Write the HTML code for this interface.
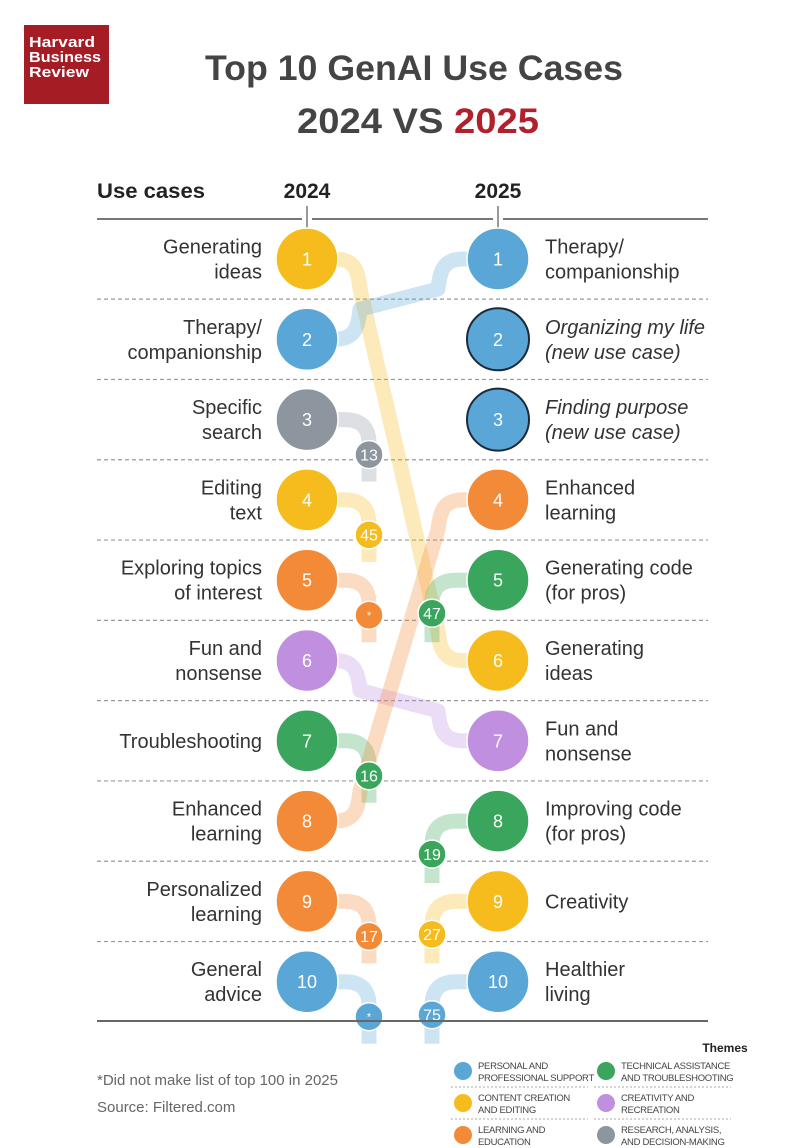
<!DOCTYPE html>
<html><head><meta charset="utf-8"><style>
html,body{margin:0;padding:0;background:#fff;}
svg{display:block;font-family:"Liberation Sans",sans-serif;}
</style></head><body>
<svg id="chart" width="800" height="1148" viewBox="0 0 800 1148" xmlns="http://www.w3.org/2000/svg">
<defs>
<linearGradient id="fadeDown" x1="0" y1="0" x2="0" y2="1"><stop offset="0" stop-color="#fff" stop-opacity="0"/><stop offset="1" stop-color="#fff" stop-opacity="1"/></linearGradient>
</defs>
<rect width="800" height="1148" fill="#fff"/>
<g>
<rect x="24" y="25" width="85" height="79" fill="#a51c24"/>
<text x="29" y="47" fill="#fff" font-weight="bold" font-size="15" textLength="66" lengthAdjust="spacingAndGlyphs">Harvard</text>
<text x="29" y="62" fill="#fff" font-weight="bold" font-size="15" textLength="72" lengthAdjust="spacingAndGlyphs">Business</text>
<text x="29" y="77" fill="#fff" font-weight="bold" font-size="15" textLength="60" lengthAdjust="spacingAndGlyphs">Review</text>
</g>
<text x="414" y="80" text-anchor="middle" font-size="35" font-weight="bold" fill="#444" textLength="418" lengthAdjust="spacingAndGlyphs">Top 10 GenAI Use Cases</text>
<text x="418" y="133" text-anchor="middle" font-size="35" font-weight="bold" fill="#444" textLength="242" lengthAdjust="spacingAndGlyphs">2024 VS <tspan fill="#b0212b">2025</tspan></text>
<text x="97" y="198" font-size="21" font-weight="bold" fill="#222" textLength="108" lengthAdjust="spacingAndGlyphs">Use cases</text>
<text x="307" y="198" text-anchor="middle" font-size="21" font-weight="bold" fill="#222">2024</text>
<text x="498" y="198" text-anchor="middle" font-size="21" font-weight="bold" fill="#222">2025</text>
<g stroke="#777" stroke-width="2">
<line x1="97" y1="219" x2="302" y2="219"/><line x1="312" y1="219" x2="493" y2="219"/><line x1="503" y1="219" x2="708" y2="219"/>
<line x1="307" y1="206" x2="307" y2="228" stroke-width="1.5"/><line x1="498" y1="206" x2="498" y2="228" stroke-width="1.5"/>
</g>
<g id="grid"></g>
<g id="ribbons"></g>
<g id="marks"></g>
<line x1="97" y1="1021" x2="708" y2="1021" stroke="#666" stroke-width="2"/>
<text x="97" y="1085" font-size="15" fill="#666">*Did not make list of top 100 in 2025</text>
<text x="97" y="1112" font-size="15" fill="#666">Source: Filtered.com</text>
<text x="725" y="1052" text-anchor="middle" font-size="12" font-weight="bold" fill="#222">Themes</text>
<g id="legend"></g>
</svg>
<script>
const themes = ['personal','content','learning','technical','creativity','research'];
const themeColors = {personal:'#5aa6d6',content:'#f6bb1c',learning:'#f28a37',technical:'#3aa55c',creativity:'#c18fe0',research:'#8d969e'};
const themeLabels = [['PERSONAL AND','PROFESSIONAL SUPPORT'],['CONTENT CREATION','AND EDITING'],['LEARNING AND','EDUCATION'],['TECHNICAL ASSISTANCE','AND TROUBLESHOOTING'],['CREATIVITY AND','RECREATION'],['RESEARCH, ANALYSIS,','AND DECISION-MAKING']];
const labels2024 = [['Generating','ideas'],['Therapy/','companionship'],['Specific','search'],['Editing','text'],['Exploring topics','of interest'],['Fun and','nonsense'],['Troubleshooting'],['Enhanced','learning'],['Personalized','learning'],['General','advice']];
const themes2024 = ['content','personal','research','content','learning','creativity','technical','learning','learning','personal'];
const rank2025of2024 = ['6','1','13','45','*','7','16','4','17','*'];
const labels2025 = [['Therapy/','companionship'],['Organizing my life','(new use case)'],['Finding purpose','(new use case)'],['Enhanced','learning'],['Generating code','(for pros)'],['Generating','ideas'],['Fun and','nonsense'],['Improving code','(for pros)'],['Creativity'],['Healthier','living']];
const themes2025 = ['personal','personal','personal','learning','technical','content','creativity','technical','content','personal'];
const rank2024of2025 = ['2','new','new','8','47','1','6','19','27','75'];

const X24=307, X25=498, XS24=369, XS25=432, R=31, RS=14;
const rowY = r => 259 + (r-1)*80.3;
const NS='http://www.w3.org/2000/svg';
function el(tag, attrs, parent){const e=document.createElementNS(NS,tag);for(const k in attrs)e.setAttribute(k,attrs[k]);parent.appendChild(e);return e;}
const grid=document.getElementById('grid'), rib=document.getElementById('ribbons'), marks=document.getElementById('marks'), leg=document.getElementById('legend');

for(let i=1;i<10;i++){
  const y=(rowY(i)+rowY(i+1))/2;
  const l=el('line',{x1:97,x2:708,y1:y,y2:y,stroke:'#999','stroke-width':1.2,'stroke-dasharray':'4 3'},grid);
  
  
}
function ribbon(d,color,op){
  const p=el('path',{d:d,fill:'none',stroke:color,'stroke-width':15,'stroke-opacity':op,'stroke-linecap':'butt','stroke-linejoin':'round'},rib);
  
  
}
function circle(x,y,r,color,txt,fs,outline){
  const g=el('g',{},marks);
  
  
  el('circle',{cx:x,cy:y,r:r,fill:color,stroke:outline?'#1c2a3a':'#fff','stroke-width':outline?2:1.5},g);
  const t=el('text',{x:x,y:y+fs*0.36,'text-anchor':'middle','font-size':fs,fill:'#fff'},g);
  t.textContent=txt;
}
function label(lines,x,y,anchor,italic){
  const t=el('text',{x:x,'text-anchor':anchor,'font-size':20,fill:'#333','font-style':italic?'italic':'normal'},marks);
  
  
  const n=lines.length;
  lines.forEach((s,k)=>{const ts=el('tspan',{x:x,y:y+7+(k-(n-1)/2)*25},t);ts.textContent=s;});
}
// 2024 column
labels2024.forEach((lab,i)=>{
  const r=i+1,y=rowY(r),c=themeColors[themes2024[i]],t=rank2025of2024[i];
  const n=parseInt(t);
  if(!isNaN(n)&&n<=10){
    const y2=rowY(n),s=Math.sign(y2-y);
    ribbon(`M${X24} ${y} H335 C355 ${y} 358 ${y+s*12} 360 ${y+s*30} L438 ${y2-s*30} C440 ${y2-s*12} 443 ${y2} 463 ${y2} H${X25}`,c,0.3);
  } else {
    ribbon(`M${X24} ${y} H345 Q${XS24} ${y} ${XS24} ${y+24} V${y+62}`,c,0.3);
    circle(XS24,y+35,RS,c,t,t==='*'?11:16,false);
  }
  circle(X24,y,R,c,String(r),18,false);
  label(lab,262,y,'end',false);
});
// 2025 column
labels2025.forEach((lab,i)=>{
  const r=i+1,y=rowY(r),c=themeColors[themes2025[i]],t=rank2024of2025[i];
  const n=parseInt(t);
  if(t==='new'){
    circle(X25,y,R,c,String(r),18,true);
  } else {
    if(n>10){
      ribbon(`M${XS25} ${y+62} V${y+24} Q${XS25} ${y} 456 ${y} H${X25}`,c,0.3);
      circle(XS25,y+33,RS,c,t,16,false);
    }
    circle(X25,y,R,c,String(r),18,false);
  }
  label(lab,545,y,'start',t==='new');
});
// legend
themes.forEach((th,i)=>{
  const col=Math.floor(i/3),row=i%3;
  const x=463+col*143,y=1071+row*32;
  const g=el('g',{},leg);
  
  
  el('circle',{cx:x,cy:y,r:9,fill:themeColors[th]},g);
  themeLabels[i].forEach((s,k)=>{const t=el('text',{x:x+15,y:y-2+k*12,'font-size':9.5,fill:'#444','letter-spacing':'-0.3'},g);t.textContent=s;});
  if(row<2){el('line',{x1:x-12,x2:x+125,y1:y+16,y2:y+16,stroke:'#aaa','stroke-dasharray':'2 2','stroke-width':1},g);}
});
</script>
</body></html>
